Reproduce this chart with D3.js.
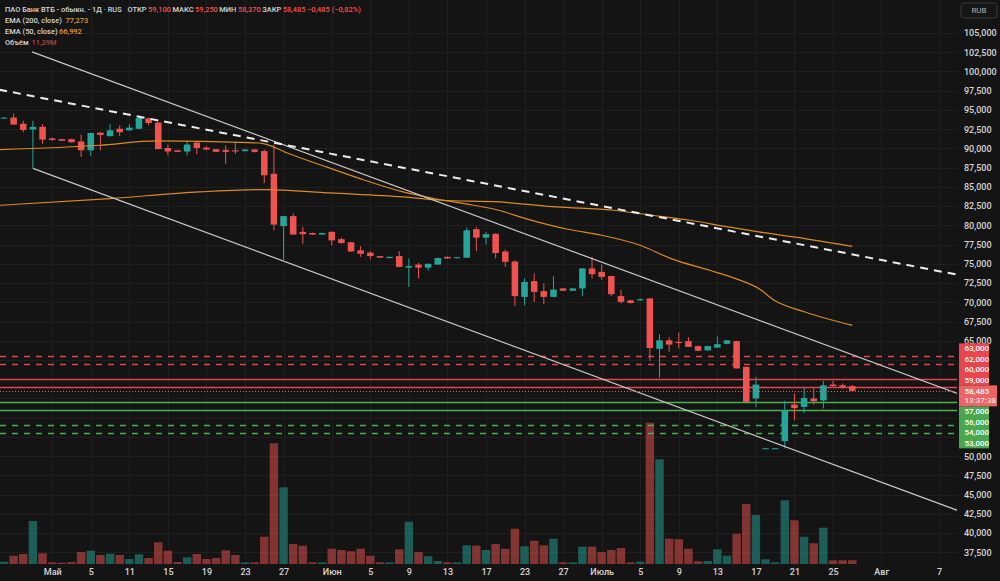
<!DOCTYPE html>
<html>
<head>
<meta charset="utf-8">
<script src="https://cdn.jsdelivr.net/npm/d3@7"></script>
<style>
  html, body { margin: 0; padding: 0; background: #141414; }
  svg { display: block; font-family: Roboto, "Liberation Sans", Arial, sans-serif; }
</style>
</head>
<body>
<svg id="chart" width="1000" height="581"></svg>
<script>
(function() {
  'use strict';

  // Daily candles, ВТБ, prices in rubles. Index 88 is the current (unfinished) bar.
  const open = [
    93.95, 94.0, 93.2, 92.45, 92.8, 91.3, 91.2, 91.2, 90.9, 89.75,
    92.05, 91.6, 92.55, 92.35, 92.55, 93.9, 93.35, 90.05, 89.75, 89.6,
    90.75, 90.1, 89.9, 89.8, 89.75, 89.65, 89.85, 89.65, 86.7, 79.9,
    81.2, 79.15, 79.0, 78.8, 79.15, 78.2, 77.8, 76.75, 76.45, 76.0,
    75.75, 76.0, 74.5, 74.9, 74.5, 74.9, 75.9, 75.75, 75.8, 79.5,
    78.4, 78.9, 76.6, 75.3, 70.7, 72.75, 71.45, 70.7, 71.8, 71.5,
    71.8, 74.4, 73.95, 73.4, 70.8, 70.25, 70.25, 70.5, 63.95, 65.05,
    64.85, 64.95, 64.3, 63.75, 64.1, 64.6, 64.95, 61.6, 57.5, 51.0,
    51.0, 51.95, 56.7, 56.4, 57.5, 57.25, 59.3, 59.2, 59.1
  ];
  const high = [
    94.05, 94.5, 93.6, 93.6, 93.15, 91.4, 91.25, 91.25, 91.8, 92.05,
    92.1, 93.2, 93.0, 93.15, 94.1, 94.0, 93.4, 90.5, 89.8, 91.0,
    90.8, 90.3, 89.95, 90.4, 90.85, 89.95, 89.95, 89.85, 90.5, 81.2,
    81.55, 79.8, 79.05, 79.05, 79.2, 78.4, 77.85, 77.3, 76.65, 76.05,
    75.95, 76.65, 75.7, 75.1, 75.05, 75.8, 75.95, 75.9, 79.7, 79.8,
    79.15, 78.95, 76.85, 75.45, 73.1, 73.75, 72.45, 73.4, 71.85, 71.85,
    74.45, 75.9, 74.9, 73.45, 71.65, 70.3, 70.5, 70.55, 65.85, 65.45,
    66.05, 65.45, 64.35, 64.35, 65.55, 65.1, 65.0, 61.65, 60.3, 51.05,
    51.05, 57.2, 58.1, 58.9, 58.9, 59.8, 59.8, 59.45, 59.25
  ];
  const low = [
    93.9, 93.05, 92.1, 87.4, 90.6, 91.0, 90.95, 90.75, 88.9, 89.0,
    89.75, 91.5, 91.6, 92.3, 92.5, 93.0, 89.9, 89.1, 89.5, 89.1,
    89.25, 89.8, 89.5, 88.0, 89.3, 89.6, 89.45, 85.5, 79.35, 75.55,
    78.8, 77.6, 78.75, 78.75, 77.4, 77.6, 76.55, 75.9, 75.6, 75.75,
    75.7, 74.55, 72.0, 73.1, 74.15, 74.85, 75.65, 75.7, 75.75, 76.65,
    77.55, 75.7, 74.6, 69.5, 69.6, 70.05, 69.75, 70.65, 71.45, 71.45,
    70.8, 73.1, 72.95, 70.8, 69.85, 69.85, 70.15, 62.35, 60.2, 63.55,
    64.0, 64.2, 63.65, 63.7, 64.05, 64.55, 61.4, 57.05, 56.4, 50.95,
    50.95, 51.0, 54.65, 55.6, 56.7, 56.2, 59.05, 58.8, 58.37
  ];
  const close = [
    94.0, 93.1, 92.4, 92.8, 91.15, 91.1, 91.0, 90.8, 89.75, 92.0,
    91.75, 92.35, 92.1, 92.7, 93.95, 93.3, 89.9, 89.6, 89.55, 90.5,
    90.05, 89.85, 89.55, 89.55, 89.6, 89.85, 89.55, 86.5, 80.1, 81.2,
    78.8, 78.85, 78.8, 79.0, 78.05, 77.7, 76.6, 76.3, 76.0, 75.8,
    75.9, 74.6, 74.7, 74.5, 75.0, 75.75, 75.7, 75.85, 79.35, 78.4,
    78.85, 76.4, 75.25, 70.8, 72.65, 71.35, 70.7, 71.65, 71.5, 71.8,
    74.4, 73.65, 73.3, 71.05, 70.05, 69.9, 70.4, 64.05, 65.05, 64.5,
    64.7, 64.2, 63.7, 64.3, 64.55, 65.05, 61.4, 57.05, 59.3, 51.02,
    51.02, 56.0, 56.25, 57.55, 57.15, 59.2, 59.1, 58.97, 58.485
  ];
  // Volume, millions of shares
  const volume = [
    7, 24.8, 29.9, 128.4, 32, 5, 4, 6, 35.8, 39.7,
    26.9, 30.8, 26.9, 14.9, 29, 17.9, 64.8, 39.7, 6, 20,
    29.9, 14.9, 17.9, 40.9, 26.9, 5, 5, 81.5, 360.4, 229,
    59.7, 54.6, 5, 5, 45.7, 41.8, 37.9, 45.7, 24.8, 5,
    5, 43.9, 126.3, 35.8, 23, 9, 5, 5, 55.8, 54.6,
    41.8, 59.7, 45.7, 105.4, 52.9, 69.6, 55.8, 75.5, 5, 5,
    51.7, 51.7, 35.8, 41.8, 47.8, 5, 6.9, 421.9, 312.6, 75.5,
    73.8, 45.7, 8, 9, 43.9, 24.8, 90.5, 179.2, 146.3, 14,
    5, 190.2, 130.5, 81.5, 61.8, 108.4, 11, 11, 11.39
  ];

  // EMA values as [bar index, price]
  const ema200 = [[-0.41, 82.61], [11, 83.48], [20.3, 84.34], [27.25, 84.65], [33.8, 84.21],
    [41.4, 83.69], [45.4, 83.26], [51.3, 83.04], [57.3, 82.39], [63.2, 81.96], [67.2, 81.31],
    [71.2, 80.66], [75.1, 79.79], [78.3, 79.14], [83.1, 78.28], [88, 77.273]];
  const ema50 = [[-0.41, 89.85], [9.96, 90.41], [15.84, 90.97], [25.5, 90.76], [26.9, 90.63],
    [29.5, 89.33], [33.45, 87.59], [37.43, 85.86], [41.4, 84.34], [44.6, 83.48], [47.7, 82.83],
    [51.3, 81.96], [54.1, 80.88], [58.5, 79.49], [62, 78.71], [66, 77.41], [69.2, 75.68],
    [73.2, 74.16], [75.9, 73.08], [78.3, 71.78], [79.9, 70.26], [83.1, 68.74], [88, 66.992]];

  // drawings: [bar index, price]
  const channelUpper = [[2.9, 102.55], [99.5, 57.87]];
  const channelLower = [[3, 87.4], [99.5, 42.67]];
  const trendDashed = [[-0.5, 97.63], [99.5, 73.44]];

  const resistanceDashed = [63, 62];
  const resistanceSolid = [60, 59];
  const supportSolid = [57, 56];
  const supportDashed = [54, 53];

  const priceTicks = [37.5, 40, 42.5, 45, 47.5, 50, 52.5, 55, 57.5, 60, 62.5, 65, 67.5, 70,
    72.5, 75, 77.5, 80, 82.5, 85, 87.5, 90, 92.5, 95, 97.5, 100, 102.5, 105];
  const timeTickIdx = [5, 9, 13, 17, 21, 25, 29, 34, 38, 42, 46, 50, 54, 58, 62, 66, 70, 74, 78, 82, 86, 91, 97];
  const timeTickLabels = ['Май', '5', '11', '15', '19', '23', '27', 'Июн', '5', '9', '13', '17', '23', '27',
    'Июль', '5', '9', '13', '17', '21', '25', 'Авг', '7'];

  const ticker = 'ПАО Банк ВТБ - обыкн. - 1Д · RUS';
  const countdown = '13:37:38';

  const W = 1000, H = 581;
  const plotRight = 957;
  const paneBottom = 566;
  const UP = '#26a69a', DOWN = '#ef5350';

  const ru = d3.formatLocale({decimal: ',', thousands: ' ', grouping: [3], currency: ['', ''], minus: '−'});
  const fmt = ru.format('.3f');

  const x = d3.scaleLinear().domain([0, 88]).range([4, 852.3]);
  const step = x(1) - x(0);
  const y = d3.scaleLinear().domain([37.5, 105]).range([552.3, 33]);
  const yVol = d3.scaleLinear().domain([0, 430]).range([564, 420]);

  const svg = d3.select('#chart');
  svg.append('rect').attr('width', W).attr('height', H).attr('fill', '#141414');

  svg.append('defs').append('clipPath').attr('id', 'plot')
    .append('rect').attr('width', plotRight).attr('height', paneBottom);

  // grid
  const grid = svg.append('g').attr('stroke', '#1f1f1f').attr('stroke-width', 1);
  grid.selectAll('.hg').data(priceTicks).join('line')
    .attr('class', 'hg')
    .attr('x1', 0).attr('x2', plotRight)
    .attr('y1', d => Math.round(y(d)) + 0.5)
    .attr('y2', d => Math.round(y(d)) + 0.5);
  grid.selectAll('.vg').data(timeTickIdx).join('line')
    .attr('class', 'vg')
    .attr('y1', 0).attr('y2', paneBottom)
    .attr('x1', d => Math.round(x(d)) + 0.5)
    .attr('x2', d => Math.round(x(d)) + 0.5);

  const plot = svg.append('g').attr('clip-path', 'url(#plot)');
  const bars = d3.range(open.length);
  const isUp = i => close[i] >= open[i];

  // volume
  const volW = step * 0.88;
  plot.append('g').selectAll('rect').data(bars).join('rect')
    .attr('x', i => x(i) - volW / 2)
    .attr('y', i => yVol(volume[i]))
    .attr('width', volW)
    .attr('height', i => Math.max(1, yVol(0) - yVol(volume[i])))
    .attr('fill', i => isUp(i) ? UP : DOWN)
    .attr('fill-opacity', 0.5);

  // level lines
  const levels = plot.append('g');
  const levelLine = (vals, color, dash) => {
    levels.append('g').selectAll('line').data(vals).join('line')
      .attr('x1', 0).attr('x2', plotRight)
      .attr('y1', d => Math.round(y(d)) + 0.5)
      .attr('y2', d => Math.round(y(d)) + 0.5)
      .attr('stroke', color)
      .attr('stroke-width', 1.3)
      .attr('stroke-dasharray', dash);
  };
  levelLine(resistanceDashed, '#e0454c', '6,6');
  levelLine(resistanceSolid, '#e0454c', null);
  levelLine(supportSolid, '#4caf50', null);
  levelLine(supportDashed, '#4caf50', '6,6');

  // candles
  const bodyW = step * 0.68;
  const candles = plot.append('g').selectAll('g').data(bars).join('g');
  candles.append('line')
    .attr('x1', i => x(i)).attr('x2', i => x(i))
    .attr('y1', i => y(high[i])).attr('y2', i => y(low[i]))
    .attr('stroke', i => isUp(i) ? UP : DOWN)
    .attr('stroke-width', 1);
  candles.append('rect')
    .attr('x', i => x(i) - bodyW / 2)
    .attr('y', i => Math.min(y(open[i]), y(close[i])))
    .attr('width', bodyW)
    .attr('height', i => Math.max(1, Math.abs(y(open[i]) - y(close[i]))))
    .attr('fill', i => isUp(i) ? UP : DOWN);

  // EMAs
  const emaLine = d3.line().x(d => x(d[0])).y(d => y(d[1])).curve(d3.curveMonotoneX);
  plot.append('path').datum(ema200).attr('d', emaLine)
    .attr('fill', 'none').attr('stroke', '#d98b24').attr('stroke-width', 1.2);
  plot.append('path').datum(ema50).attr('d', emaLine)
    .attr('fill', 'none').attr('stroke', '#d98b24').attr('stroke-width', 1.2);

  // drawings
  const seg = d3.line().x(d => x(d[0])).y(d => y(d[1]));
  plot.append('path').datum(channelUpper).attr('d', seg)
    .attr('fill', 'none').attr('stroke', '#c9c9c9').attr('stroke-width', 1.2);
  plot.append('path').datum(channelLower).attr('d', seg)
    .attr('fill', 'none').attr('stroke', '#c9c9c9').attr('stroke-width', 1.2);
  plot.append('path').datum(trendDashed).attr('d', seg)
    .attr('fill', 'none').attr('stroke', '#ececec').attr('stroke-width', 2)
    .attr('stroke-dasharray', '8,6');

  // current price line
  const last = open.length - 1;
  const yLast = y(close[last]);
  plot.append('line')
    .attr('x1', 0).attr('x2', plotRight)
    .attr('y1', Math.round(yLast) + 0.5).attr('y2', Math.round(yLast) + 0.5)
    .attr('stroke', DOWN).attr('stroke-width', 1).attr('stroke-dasharray', '1,2');

  // label stack on the price axis
  const labH = 10.5;
  const boxX = plotRight + 2;
  const priceBoxTop = yLast - 5.5;
  const priceBoxH = 21;
  const resLevels = resistanceDashed.concat(resistanceSolid).sort((a, b) => a - b);
  const supLevels = supportSolid.concat(supportDashed).sort((a, b) => b - a);
  const stackTop = priceBoxTop - labH * resLevels.length;
  const stackBottom = priceBoxTop + priceBoxH + labH * supLevels.length;

  // price axis (ticks hidden under the label stack are not shown)
  const visibleTicks = priceTicks.filter(d => y(d) < stackTop + 1 || y(d) > stackBottom + 4);
  const yAxis = svg.append('g')
    .attr('transform', `translate(${plotRight + 1},0)`)
    .call(d3.axisRight(y).tickValues(visibleTicks).tickFormat(fmt).tickSize(0).tickPadding(6));
  yAxis.select('.domain').remove();
  yAxis.selectAll('text')
    .attr('fill', '#d6d6d6').attr('font-size', 9).attr('font-weight', 500)
    .attr('font-family', 'Roboto, "Liberation Sans", Arial, sans-serif');

  // time axis
  const xAxis = svg.append('g')
    .attr('transform', `translate(0,${paneBottom})`)
    .call(d3.axisBottom(x).tickValues(timeTickIdx)
      .tickFormat((d, i) => timeTickLabels[i]).tickSize(0).tickPadding(3));
  xAxis.select('.domain').remove();
  xAxis.selectAll('text')
    .attr('fill', '#d6d6d6').attr('font-size', 9).attr('font-weight', 500)
    .attr('font-family', 'Roboto, "Liberation Sans", Arial, sans-serif');

  const labels = svg.append('g').attr('font-size', 8).attr('font-weight', 500);

  labels.append('rect')
    .attr('x', boxX).attr('width', 30)
    .attr('y', stackTop)
    .attr('height', labH * resLevels.length)
    .attr('fill', '#e8454d');
  labels.selectAll('.rl').data(resLevels).join('text')
    .attr('class', 'rl')
    .attr('x', boxX + 5.5)
    .attr('y', (d, k) => priceBoxTop - labH * (k + 0.5))
    .attr('dy', '0.35em')
    .attr('fill', '#ffffff')
    .text(fmt);

  labels.append('rect')
    .attr('x', boxX).attr('width', 30)
    .attr('y', priceBoxTop + priceBoxH)
    .attr('height', labH * supLevels.length)
    .attr('fill', '#49a84d');
  labels.selectAll('.sl').data(supLevels).join('text')
    .attr('class', 'sl')
    .attr('x', boxX + 5.5)
    .attr('y', (d, k) => priceBoxTop + priceBoxH + labH * (k + 0.5))
    .attr('dy', '0.35em')
    .attr('fill', '#ffffff')
    .text(fmt);

  labels.append('rect')
    .attr('x', boxX).attr('width', 38)
    .attr('y', priceBoxTop).attr('height', priceBoxH)
    .attr('fill', '#ee6466');
  labels.append('text')
    .attr('x', boxX + 5.5).attr('y', yLast).attr('dy', '0.35em')
    .attr('fill', '#ffffff').text(fmt(close[last]));
  labels.append('text')
    .attr('x', boxX + 5.5).attr('y', yLast + 9.8).attr('dy', '0.35em')
    .attr('fill', '#ffe3e3').text(countdown);

  // currency box
  svg.append('rect')
    .attr('x', 961).attr('y', 3).attr('width', 36).attr('height', 15).attr('rx', 3)
    .attr('fill', '#161616').attr('stroke', '#3a3a3a');
  svg.append('text')
    .attr('x', 979).attr('y', 10.5).attr('dy', '0.35em')
    .attr('text-anchor', 'middle').attr('font-size', 8).attr('fill', '#b0b0b0')
    .text('RUB');

  // legend: one font size (fitted on the ticker line), pieces never run into each other
  const chg = close[last] - close[last - 1];
  const pct = chg / close[last - 1] * 100;
  const pctFmt = ru.format('.2f');
  const legend = svg.append('g').attr('font-weight', 500);
  const probe = legend.append('text').attr('font-size', 9).text(ticker);
  const legendSize = Math.min(9, 9 * 117 / probe.node().getComputedTextLength());
  probe.remove();
  legend.attr('font-size', legendSize);

  let rowEnd = 0;
  const put = (txt, lx, ly, color, newRow) => {
    if (newRow) rowEnd = 0;
    const t = legend.append('text').attr('x', Math.max(lx, rowEnd + 1.5)).attr('y', ly)
      .attr('dy', '0.35em').attr('fill', color).text(txt);
    rowEnd = +t.attr('x') + t.node().getComputedTextLength();
  };
  const LBL = '#d6d6d6', ORANGE = '#e8962e';
  put(ticker, 5, 9.5, LBL, true);
  put('ОТКР', 127.5, 9.5, LBL);
  put(fmt(open[last]), 146.5, 9.5, DOWN);
  put('МАКС', 172.5, 9.5, LBL);
  put(fmt(high[last]), 192.5, 9.5, DOWN);
  put('МИН', 219, 9.5, LBL);
  put(fmt(low[last]), 235.5, 9.5, DOWN);
  put('ЗАКР', 262, 9.5, LBL);
  put(fmt(close[last]), 279.5, 9.5, DOWN);
  put(`${fmt(chg)} (${pctFmt(pct)}%)`, 306, 9.5, DOWN);
  put('EMA (200, close)', 5, 20.5, LBL, true);
  put(fmt(ema200[ema200.length - 1][1]), 65.5, 20.5, ORANGE);
  put('EMA (50, close)', 5, 31.5, LBL, true);
  put(fmt(ema50[ema50.length - 1][1]), 57.5, 31.5, ORANGE);
  put('Объём', 5, 42.5, LBL, true);
  put(ru.format('.2f')(volume[last]) + 'M', 31.5, 42.5, '#b8403f');
})();
</script>
</body>
</html>
